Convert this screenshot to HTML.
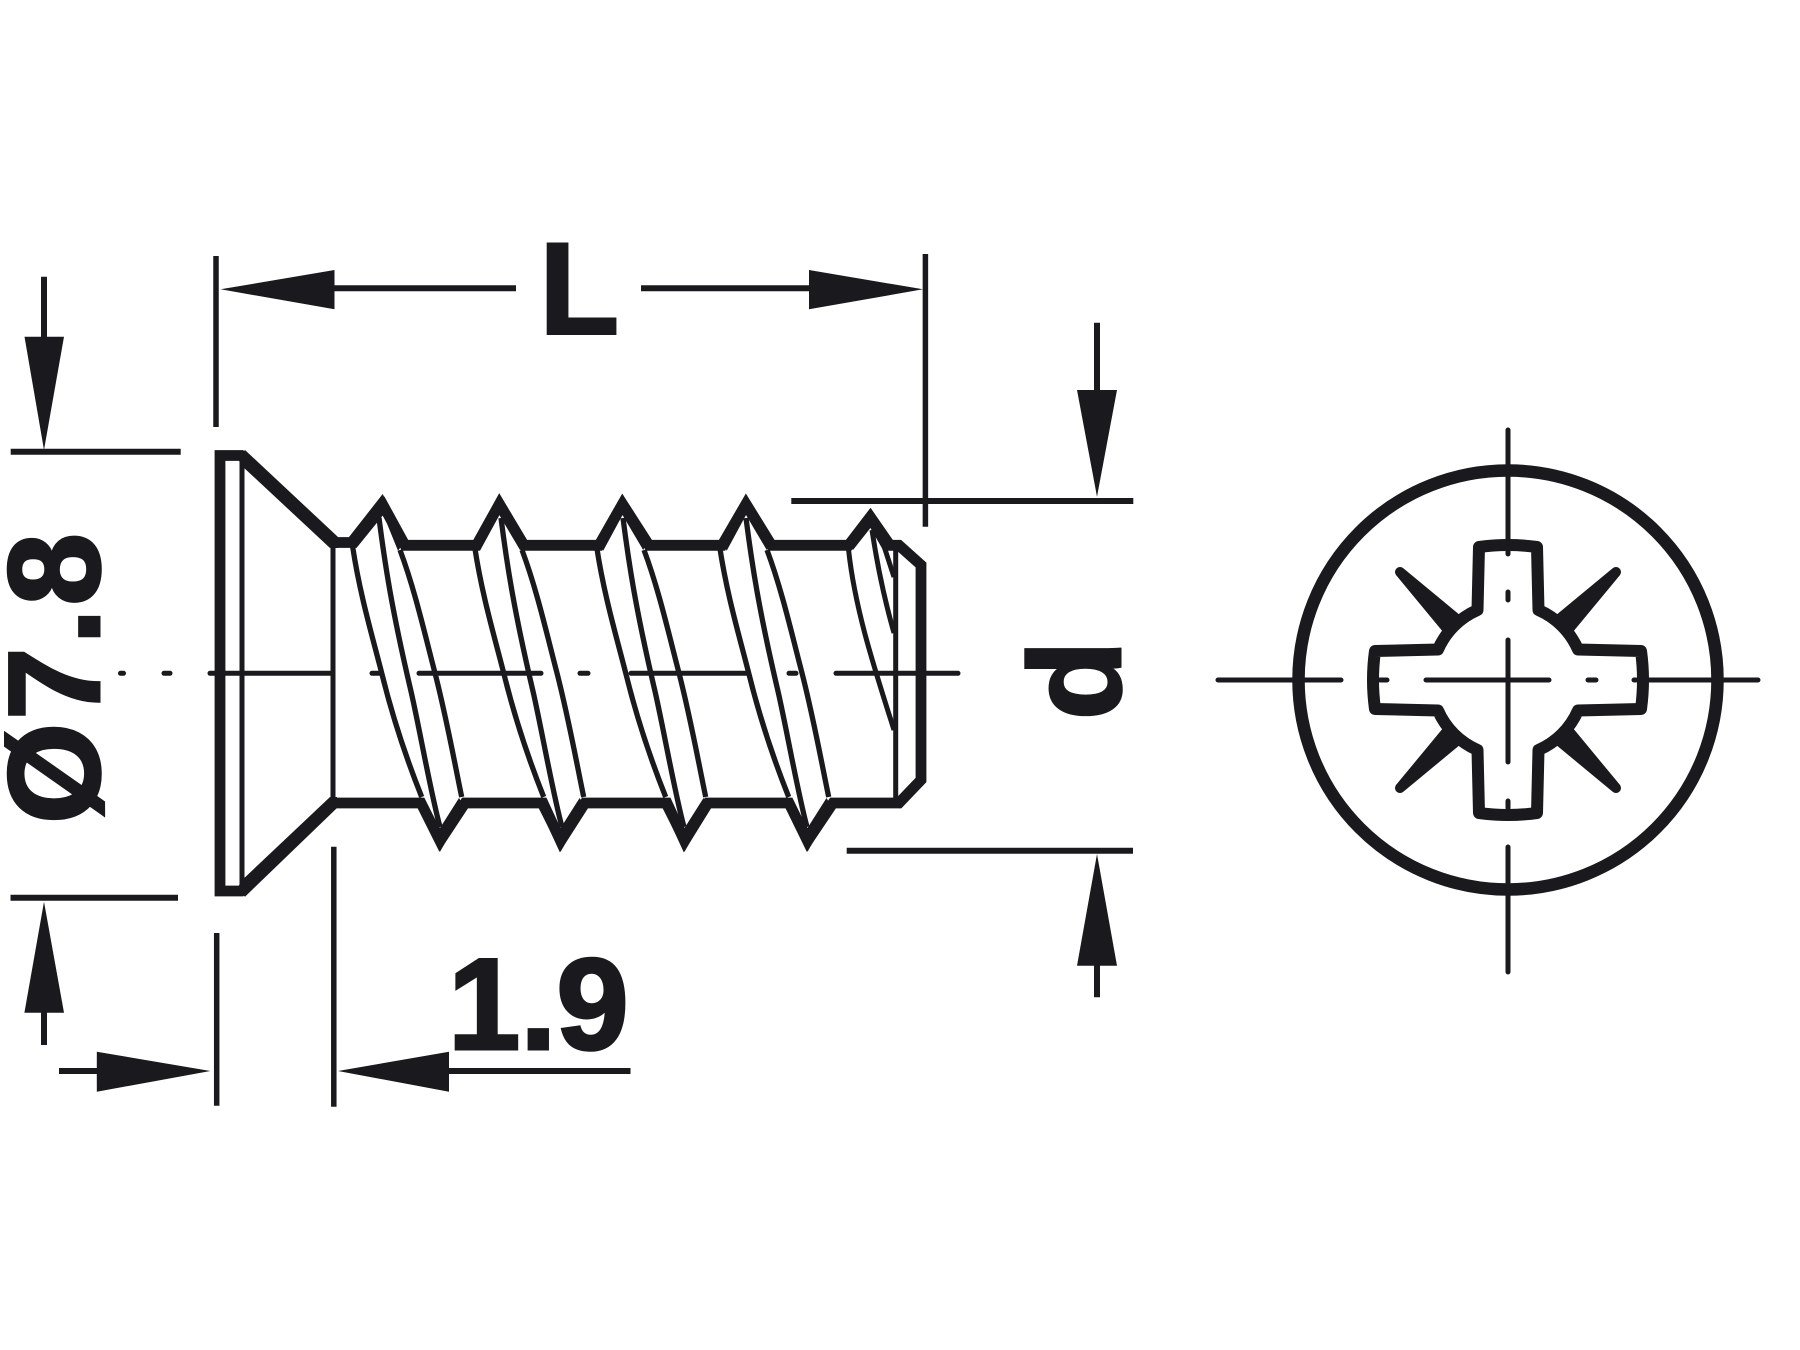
<!DOCTYPE html>
<html><head><meta charset="utf-8"><style>html,body{margin:0;padding:0;background:#fff;width:1800px;height:1350px;overflow:hidden}svg{display:block}</style></head>
<body>
<svg xmlns="http://www.w3.org/2000/svg" width="1800" height="1350" viewBox="0 0 1800 1350">
<rect width="1800" height="1350" fill="#fff"/>
<defs>
<g id="th" fill="none" stroke="#1a1a1e" stroke-width="5.3">
<path d="M352.7,547 C360,595 372,635 381.7,673 C392,715 405,755 421.7,797"/>
<path d="M379,518 C385,565 392,610 410,687 C418,720 430,790 440,827"/>
<path d="M400,550 C415,590 425,635 435,673 C447,720 455,765 461.7,797"/>
</g>
<polygon id="pk" points="-24.3,46 0,0 26.4,46 20.7,56 0,21 -19.3,56.7" fill="#1a1a1e"/>
<polygon id="vl" points="-22,-43.7 0,0 25,-43.7 19,-53.7 0,-23.7 -17,-53.7" fill="#1a1a1e"/>
<polygon id="sp" points="-108,-108 -50,-60 -60,-50" fill="#1a1a1e" stroke="#1a1a1e" stroke-width="10" stroke-linejoin="round"/>
</defs>
<g fill="none" stroke="#1a1a1e" stroke-width="5.5">
<path d="M216,256V427M925.4,254V526.7M216.7,933V1105.7M333.8,846.7V1106.7"/>
<path stroke-width="6" d="M10.7,451.7H180.7M10.5,897.7H178M791.3,501H1133.3M846.7,850.7H1133M334,288.3H516M641,288.3H810M44,276.7V337M44,1012V1045M1097,322.7V390M1097,965V997.3M59,1071H97M449,1071H630.5"/>
</g>
<g fill="#1a1a1e">
<polygon points="220.6,289.3 334.5,270 334.5,309.3"/>
<polygon points="923,289.3 809,270 809,309.3"/>
<polygon points="44,450 24.5,336.7 64,336.7"/>
<polygon points="44,901.7 24.4,1012.7 64,1012.7"/>
<polygon points="1097,496.7 1077,390 1117,390"/>
<polygon points="1097,854 1077,965.7 1117,965.7"/>
<polygon points="210.4,1071 96.8,1051.7 96.8,1091.7"/>
<polygon points="338,1071 449,1051.7 449,1091.7"/>
</g>
<g fill="none" stroke="#1a1a1e" stroke-width="5" stroke-linecap="round">
<path d="M120.5,673.3h3M164,673.3h6M210,673.3H332M372,673.3h7M419,673.3H541M580,673.3h8M631,673.3H747M789,673.3h7M836,673.3H958"/>
</g>
<g fill="none" stroke="#1a1a1e" stroke-width="5">
<path d="M242,456V891M333,545V803M895.7,550V798"/>
<use href="#th"/>
<use href="#th" transform="translate(122,0)"/>
<use href="#th" transform="translate(244,0)"/>
<use href="#th" transform="translate(367,0)" />
<path d="M848.6,550 C855,610 875,670 894,730"/>
<path d="M872,530 C878,570 886,605 894,633"/>
<path d="M882,540 L894,577"/>
</g>
<path d="M220,455.5 L241,455.5 L333,542.5 L354,542.5 L383.5,506 L405,545.3 L476.5,545.3 L499.4,504 L524,545.3 L599,545.3 L622.5,504 L649,545.3 L722,545.3 L746,504 L771.5,545.3 L848.6,545.3 L870.4,517 L890,545.3 L899,545.3 L921,565 L921,780 L899,803 L833,803 L807.5,841 L789,803 L708,803 L684.5,841 L667,803 L585,803 L560.6,841 L543,803 L465,803 L440,841 L421,803 L333,803 L241,891 L220,891 Z" fill="none" stroke="#1a1a1e" stroke-width="10.8" stroke-miterlimit="10"/>
<g fill="#1a1a1e">
<polygon points="245,450 338,537 338,548 330,548 242,466 238,458"/>
<polygon points="245,896.7 337,808 337,797 330,797 240,882 238,890"/>
<polygon points="349,537 382.7,494 406,540 398,550.7 382.7,513 355,547"/>
<use href="#pk" x="499.3" y="494"/>
<use href="#pk" x="622.5" y="494"/>
<use href="#pk" x="746" y="494"/>
<polygon points="846,540 870.4,508 890,540 883,550 870.4,528 853,550"/>
<use href="#vl" x="440" y="851.7"/>
<use href="#vl" x="560.6" y="851.7"/>
<use href="#vl" x="684.5" y="851.7"/>
<use href="#vl" x="807.5" y="851.7"/>
</g>
<g font-family="'Liberation Sans',sans-serif" font-weight="700" fill="#1a1a1e" stroke="#1a1a1e" stroke-width="3" font-size="130">
<text x="539.5" y="333.5" font-size="130">L</text>
<text x="448" y="1049">1.9</text>
<text transform="translate(99,824) rotate(-90)" letter-spacing="3">Ø7.8</text>
<text transform="translate(1120,720) rotate(-90)">d</text>
</g>
<g transform="translate(1508,680)">
<circle r="209.5" fill="none" stroke="#1a1a1e" stroke-width="12.5"/>
<path d="M-29,-133 Q0,-137 29,-133 L30.5,-70 A76.4,76.4 0 0 1 70,-30.5 L133,-29 Q137,0 133,29 L70,30.5 A76.4,76.4 0 0 1 30.5,70 L29,133 Q0,137 -29,133 L-30.5,70 A76.4,76.4 0 0 1 -70,30.5 L-133,29 Q-137,0 -133,-29 L-70,-30.5 A76.4,76.4 0 0 1 -30.5,-70 Z" fill="none" stroke="#1a1a1e" stroke-width="12" stroke-linejoin="round"/>
<use href="#sp"/>
<use href="#sp" transform="scale(-1,1)"/>
<use href="#sp" transform="scale(1,-1)"/>
<use href="#sp" transform="scale(-1,-1)"/>
<path fill="none" stroke="#1a1a1e" stroke-width="5" stroke-linecap="round" d="M0,-250V-138M0,-131V-126M0,-88V-80M0,-40V82M0,121V128M0,167V292M-290,0H-167M-128,0H-121M-82,0H41M80,0H88M126,0h2M141,0H250"/>
</g>
</svg>
</body></html>
